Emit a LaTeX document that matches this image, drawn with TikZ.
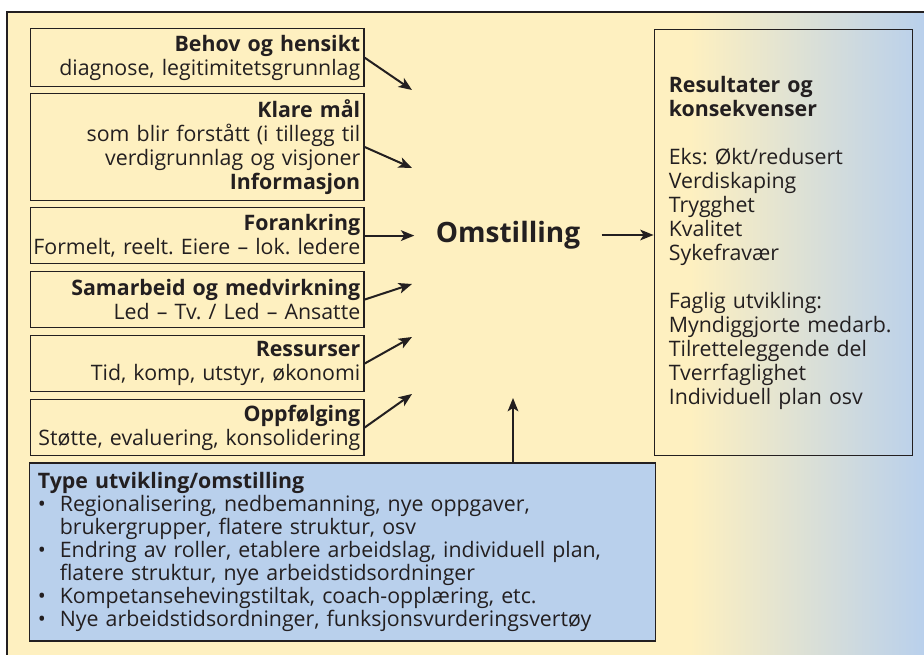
\documentclass[tikz,border=0pt]{standalone}
\usepackage{fontspec}
\setmainfont{Open Sans}
\usepackage{tikz}
\usepackage{xcolor}
\usetikzlibrary{
  positioning, arrows.meta, calc,
}
\definecolor{cFrameBg} {HTML}{FEF0C0}
\definecolor{cTypeBg}  {HTML}{B9D0EC}
\definecolor{cInk}     {HTML}{231F20}
\frenchspacing

\tikzset{
  factorbox/.style={draw=cInk, line width=0.9pt, fill=cFrameBg, anchor=north west,
    minimum width=250pt, text width=244.5pt, align=right, inner xsep=2.75pt,
    font=\fontsize{16}{18}\selectfont, text=cInk},
  push/.style={-{Stealth[length=10pt,width=8pt,inset=2.5pt]}, line width=1.5pt, draw=cInk},
}

\begin{document}
\begin{tikzpicture}[x=0.75pt, y=-0.75pt]
  \useasboundingbox (0,0) rectangle (924,655);
  % frame and background
  \fill[cFrameBg] (7,12) rectangle (924,655);
  \shade[left color=cFrameBg, right color=cTypeBg] (690,12) rectangle (924,655);
  \draw[cInk, line width=1.5pt] (7,660) -- (7,12) -- (930,12);

  % factors on the left
  \node[factorbox, minimum height=43.5pt] (behov) at (30,28)
    {\textbf{Behov og hensikt}\\ diagnose, legitimitetsgrunnlag};
  \node[factorbox, minimum height=80pt] (maal) at (30,93)
    {\textbf{Klare mål}\\ som blir forstått (i tillegg til\ \\ verdigrunnlag og visjoner\\ \textbf{Informasjon}};
  \node[factorbox, minimum height=42pt] (forank) at (30,207)
    {\textbf{Forankring}\\ \makebox[\linewidth][r]{Formelt, reelt. Eiere – lok. ledere}};
  \node[factorbox, minimum height=42pt] (samarb) at (30,271)
    {\textbf{Samarbeid og medvirkning}\\ Led – Tv. / Led – Ansatte};
  \node[factorbox, minimum height=42pt] (ressurs) at (30,335)
    {\textbf{Ressurser}\\ Tid, komp, utstyr, økonomi};
  \node[factorbox, minimum height=42pt] (oppf) at (30,399)
    {\textbf{Oppfølging}\\ Støtte, evaluering, konsolidering};

  % centre
  \node[font=\fontsize{21}{24}\selectfont\bfseries, text=cInk, inner xsep=16pt] (omst) at (508,235) {Omstilling};

  % results
  \node[draw=cInk, line width=0.9pt, minimum width=194pt, minimum height=320pt,
        text width=172pt, align=left, text=cInk,
        font=\fontsize{16}{18}\selectfont] (res) at (783.5,242.5)
    {\textbf{Resultater og}\\ \textbf{konsekvenser}\\[18pt]
     Eks: Økt/redusert\\ Verdiskaping\\ Trygghet\\ Kvalitet\\ Sykefravær\\[18pt]
     Faglig utvikling:\\ Myndiggjorte medarb.\\ Tilretteleggende del\\ Tverrfaglighet\\ Individuell plan osv};

  % type of change
  \node[draw=cInk, line width=0.9pt, fill=cTypeBg, minimum width=469pt, minimum height=133.5pt,
        text width=457pt, align=left, text=cInk,
        font=\fontsize{16}{17.25}\selectfont] (type) at (342.5,552)
    {\textbf{Type utvikling/omstilling}\\
     \makebox[16.5pt][l]{\textbullet}Regionalisering, nedbemanning, nye oppgaver,\\
     \hspace*{16.5pt}brukergrupper, flatere struktur, osv\\
     \makebox[16.5pt][l]{\textbullet}Endring av roller, etablere arbeidslag, individuell plan,\\
     \hspace*{16.5pt}flatere struktur, nye arbeidstidsordninger\\
     \makebox[16.5pt][l]{\textbullet}Kompetansehevingstiltak, coach-opplæring, etc.\\
     \makebox[16.5pt][l]{\textbullet}Nye arbeidstidsordninger, funksjonsvurderingsvertøy};

  % arrow ends
  \coordinate (inBehov)   at (412,90);
  \coordinate (inMaal)    at (412,168);
  \coordinate (inSamarb)  at (412,284);
  \coordinate (inRessurs) at (412,337);
  \coordinate (inOppf)    at (412,394);
  \coordinate (inType)    at (513,398);

  \draw[push] (behov.east) -- (inBehov);
  \draw[push] (maal.east) -- (inMaal);
  \draw[push] (forank.east) -- (omst.west |- forank.east);
  \draw[push] (samarb.east) -- (inSamarb);
  \draw[push] (ressurs.east) -- (inRessurs);
  \draw[push] (oppf.east) -- (inOppf);
  \draw[push] (inType |- type.north) -- (inType);
  \draw[push] (omst.east) -- (res.west |- omst.east);
\end{tikzpicture}
\end{document}
